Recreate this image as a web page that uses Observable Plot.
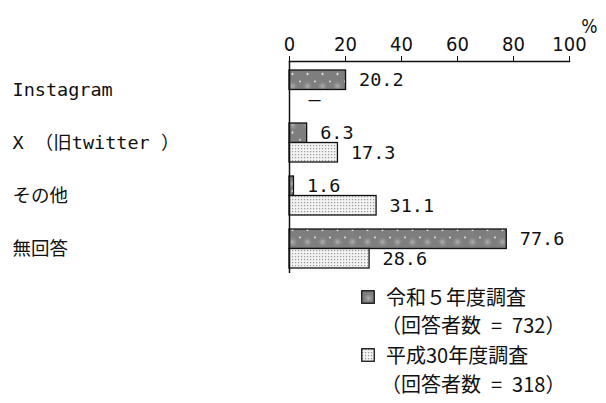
<!DOCTYPE html>
<html>
<head>
<meta charset="utf-8">
<script src="https://cdn.jsdelivr.net/npm/d3@7"></script>
<script src="https://cdn.jsdelivr.net/npm/@observablehq/plot@0.6"></script>
<style>
  body { margin: 0; background: #fff; }
  #wrap { width: 606px; }
  #legend { position: relative; width: 606px; height: 123px; font-family: "Noto Sans CJK JP", sans-serif; font-size: 20px; color: #111; }
  #legend .t { position: absolute; line-height: 24px; white-space: pre; }
  #legend svg { position: absolute; }
</style>
</head>
<body>
<div id="wrap"></div>
<script>
// ---- data ----
const categories = ["Instagram", "X （旧twitter ）", "その他", "無回答"];
const seriesNames = ["令和５年度調査", "平成30年度調査"];
const seriesN = [732, 318];
const valuesR5 = [20.2, 6.3, 1.6, 77.6];
const valuesH30 = [null, 17.3, 31.1, 28.6];
const xTicks = [0, 20, 40, 60, 80, 100];

const rows = categories.map((c, i) => ({cat: c, r5: valuesR5[i], h30: valuesH30[i]}));

const bw = 39; // band width in px (style)
const mono = '"DejaVu Sans Mono", "Noto Sans Mono CJK JP", monospace';
const narrow = '"Liberation Sans Narrow", "Arial Narrow", "DejaVu Sans Condensed", sans-serif';

const chart = Plot.plot({
  width: 606,
  height: 280,
  marginLeft: 289,
  marginRight: 37,
  marginTop: 61,
  marginBottom: 7,
  style: {fontFamily: mono, color: "#111", background: "#fff"},
  x: {domain: [0, 100]},
  y: {domain: categories, paddingInner: 0.264, paddingOuter: 0.132, align: 0.64, axis: null},
  marks: [
    Plot.barX(rows, {y: "cat", x: "r5", insetBottom: bw / 2, fill: "url(#pR5)", stroke: "#111", strokeWidth: 1.3}),
    Plot.barX(rows.filter(d => d.h30 != null), {y: "cat", x: "h30", insetTop: bw / 2, fill: "url(#pH30)", stroke: "#111", strokeWidth: 1.3}),
    Plot.text(rows, {y: "cat", x: "r5", text: d => d.r5.toFixed(1), dx: 13, dy: -bw / 4, textAnchor: "start", fontSize: 18.5, fontFamily: mono, fill: "#111"}),
    Plot.text(rows.filter(d => d.h30 != null), {y: "cat", x: "h30", text: d => d.h30.toFixed(1), dx: 13, dy: bw / 4, textAnchor: "start", fontSize: 18.5, fontFamily: mono, fill: "#111"}),
    Plot.text(rows.filter(d => d.h30 == null), {y: "cat", x: 0, text: () => "—", dx: 25, dy: bw / 4, textAnchor: "middle", fontSize: 20, fontFamily: mono, fill: "#111"}),
    Plot.text(rows, {y: "cat", text: "cat", frameAnchor: "left", textAnchor: "start", dx: -277, fontSize: 18.5, fontFamily: mono, fill: "#111"}),
    Plot.ruleX([0], {stroke: "#111", strokeWidth: 1.5}),
    Plot.frame({anchor: "top", stroke: "#111", strokeWidth: 1.5}),
    Plot.axisX(xTicks, {anchor: "top", tickSize: 6, tickPadding: 5, fontSize: 20, fontFamily: narrow, label: null, stroke: "#111", fill: "#111"}),
    Plot.text(["%"], {frameAnchor: "top-right", dx: 28, dy: -42, fontSize: 19, fontFamily: narrow, fill: "#111"})
  ]
});

// patterns
const defs = d3.select(chart).insert("defs", ":first-child");
const rg = defs.append("radialGradient").attr("id", "blob");
rg.append("stop").attr("offset", "0%").attr("stop-color", "#b4b4b4");
rg.append("stop").attr("offset", "100%").attr("stop-color", "#808080").attr("stop-opacity", 0);
const p1 = defs.append("pattern").attr("id", "pR5").attr("patternUnits", "userSpaceOnUse").attr("width", 15).attr("height", 19.5).attr("y", 0);
p1.append("rect").attr("width", 15).attr("height", 19.5).attr("fill", "#7e7e7e");
p1.append("circle").attr("cx", 7.5).attr("cy", 8).attr("r", 6).attr("fill", "url(#blob)");
p1.append("circle").attr("cx", 0).attr("cy", 3.5).attr("r", 1).attr("fill", "#e6e6e6");
p1.append("circle").attr("cx", 15).attr("cy", 3.5).attr("r", 1).attr("fill", "#e6e6e6");
p1.append("circle").attr("cx", 7.5).attr("cy", 15.5).attr("r", 1).attr("fill", "#f0f0f0");
const p2 = defs.append("pattern").attr("id", "pH30").attr("patternUnits", "userSpaceOnUse").attr("width", 3).attr("height", 3);
p2.append("rect").attr("width", 3).attr("height", 3).attr("fill", "#f2f2f2");
p2.append("rect").attr("x", 1).attr("y", 1).attr("width", 1.2).attr("height", 1.2).attr("fill", "#9a9a9a");

const wrap = document.getElementById("wrap");
wrap.appendChild(chart);

// legend (HTML below the chart)
const legend = document.createElement("div");
legend.id = "legend";
wrap.appendChild(legend);
const legendTop = 280;
const entries = [
  {fill: "url(#pR5)", name: seriesNames[0], n: seriesN[0], line1: 297, line2: 325},
  {fill: "url(#pH30)", name: seriesNames[1], n: seriesN[1], line1: 355, line2: 384}
];
entries.forEach(e => {
  const sw = d3.select(legend).append("svg").attr("width", 14).attr("height", 14)
    .style("left", "361px").style("top", (e.line1 - 7 - legendTop) + "px");
  sw.append("rect").attr("x", 0.75).attr("y", 0.75).attr("width", 12.5).attr("height", 12.5)
    .attr("fill", e.fill).attr("stroke", "#111").attr("stroke-width", 1.3);
  d3.select(legend).append("div").attr("class", "t")
    .style("left", "386px").style("top", (e.line1 - 12 - legendTop) + "px").text(e.name);
  d3.select(legend).append("div").attr("class", "t")
    .style("left", "381px").style("top", (e.line2 - 12 - legendTop) + "px").text(`（回答者数\u2002=\u2002${e.n}）`);
});
</script>
</body>
</html>
